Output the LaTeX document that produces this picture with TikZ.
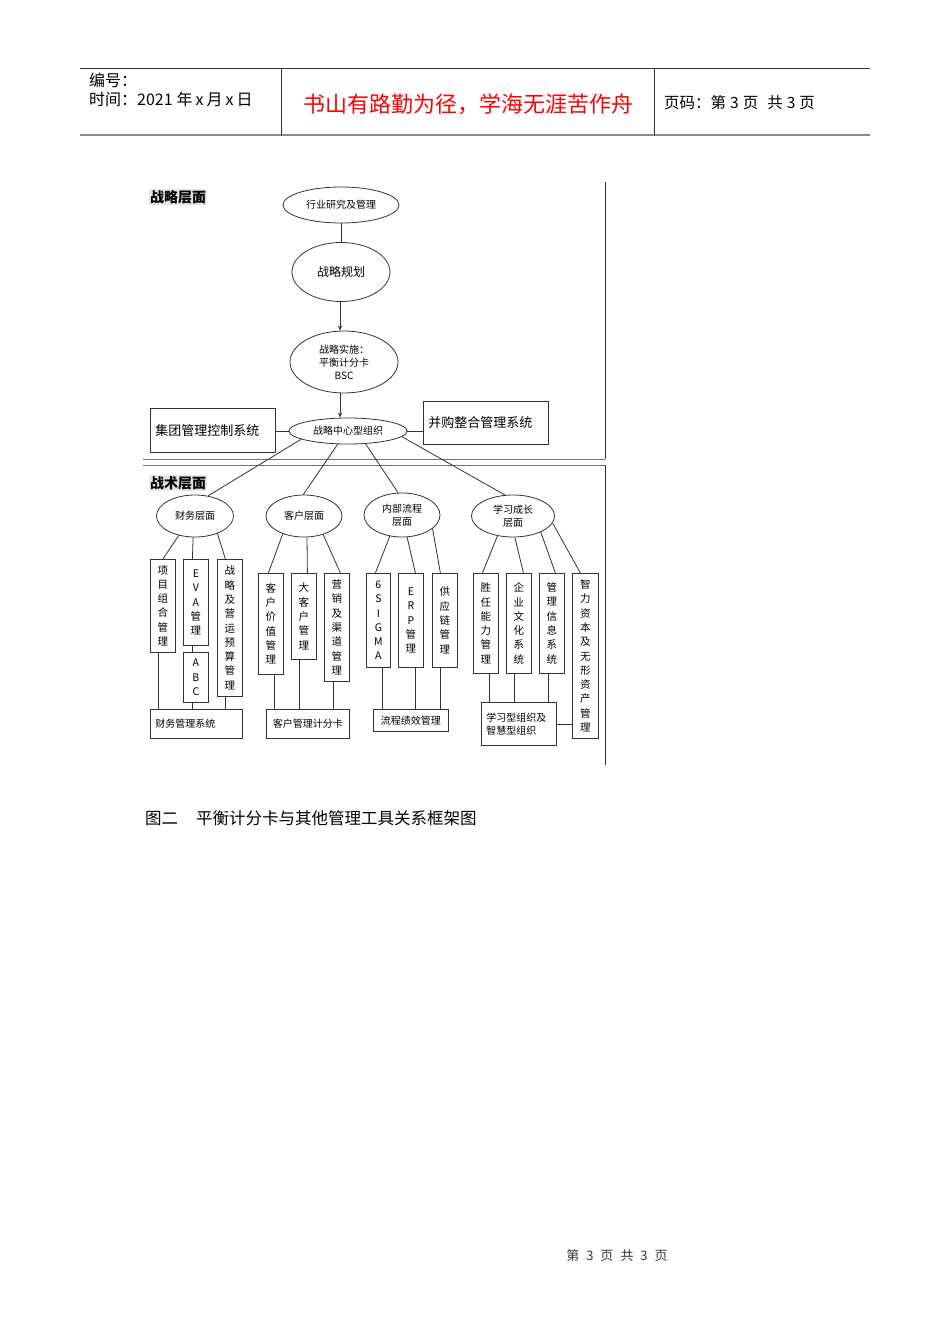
\documentclass[tikz,border=0pt]{standalone}
\usepackage{fontspec}
\setmainfont{Liberation Sans}
\newfontfamily\cjk{Noto Sans CJK SC}
\usetikzlibrary{shapes.geometric,arrows.meta}
\definecolor{ln}{HTML}{333333}
\definecolor{hdr}{HTML}{8A8A8A}
\begin{document}
\begin{tikzpicture}[x=1pt,y=-1pt,
  ell/.style={ellipse,draw=ln,line width=0.8pt,inner sep=0pt,align=center,font=\fontsize{10}{13}\cjk},
  vbox/.style={draw=ln,line width=0.8pt,inner sep=0pt,anchor=north west,minimum width=25pt,align=center,font=\fontsize{10.5}{14.3}\cjk},
  hbox/.style={draw=ln,line width=0.8pt,anchor=north west,font=\fontsize{10}{13}\cjk},
  bigbox/.style={draw=ln,line width=0.8pt,anchor=north west,inner sep=5pt,align=left,font=\fontsize{13}{15}\cjk},
  conn/.style={draw=ln,line width=0.8pt},
  arr/.style={conn,-{Stealth[length=5pt,width=4pt]}},
  frame/.style={draw=ln,line width=1pt},
  lvl/.style={anchor=west,fill=black!10,inner sep=1pt,font=\fontsize{14}{16}\cjk\bfseries}
]
\useasboundingbox[fill=white] (0,0) rectangle (950,1344);

% ---------- header ----------
\coordinate (hTL) at (80,68);
\coordinate (hTR) at (870,68);
\coordinate (hBL) at (80,135);
\coordinate (hBR) at (870,135);
\draw[ln,line width=0.8pt] (hTL) -- (hTR);
\draw[hdr,line width=2pt] (hBL) -- (hBR);
\coordinate (d1t) at (281,68); \coordinate (d1b) at (281,135);
\coordinate (d2t) at (654,68); \coordinate (d2b) at (654,135);
\draw[ln,line width=0.8pt] (d1t) -- (d1b);
\draw[ln,line width=0.8pt] (d2t) -- (d2b);
\node[anchor=west,inner sep=0pt,font=\fontsize{16}{18}\cjk] (hno) at (89,80) {编号：};
\node[anchor=west,inner sep=0pt,font=\fontsize{16}{18}\cjk] (htime) at (89,99) {时间：2021\hspace{4pt}年\hspace{3pt}x\hspace{3pt}月\hspace{3pt}x\hspace{3pt}日};
\node[inner sep=0pt,text=red,font=\fontsize{22}{25}\cjk] (motto) at (468,104) {书山有路勤为径，学海无涯苦作舟};
\node[anchor=west,inner sep=0pt,font=\fontsize{15.5}{17}\cjk] (hpage) at (664,103) {页码：第\hspace{4pt}3\hspace{4pt}页\hspace{9pt}共\hspace{4pt}3\hspace{4pt}页};

% ---------- frame ----------
\coordinate (fr1) at (605,182);
\coordinate (fr2) at (605,459);
\coordinate (fr3) at (143,459);
\coordinate (fr4) at (143,465);
\coordinate (fr5) at (605,465);
\coordinate (fr6) at (605,765);
\draw[frame] (fr1) -- (fr2);
\draw[frame,draw=black!55] (fr2) -- (fr3);
\draw[frame,draw=black!55] (fr4) -- (fr5);
\draw[frame] (fr5) -- (fr6);
\node[lvl] (lv1) at (149,197) {战略层面};
\node[lvl] (lv2) at (149,483) {战术层面};

% ---------- strategic level ----------
\node[ell,minimum width=116pt,minimum height=36pt] (r1) at (341,205) {行业研究及管理};
\node[ell,minimum width=98pt,minimum height=59pt,font=\fontsize{12}{14}\cjk] (r2) at (341,272) {战略规划};
\node[ell,minimum width=108pt,minimum height=62pt] (r3) at (344,362) {战略实施：\\平衡计分卡\\BSC};
\node[ell,minimum width=118pt,minimum height=26pt] (e4) at (348,431) {战略中心型组织};
\node[bigbox,text width=115pt,minimum height=44pt] (grp) at (150,408) {集团管理控制系统};
\node[bigbox,text width=115pt,minimum height=43pt] (ma) at (423,401) {并购整合管理系统\\[6pt]};
\draw[conn] (r1.south) -- (r2.north);
\draw[arr] ([xshift=-1pt]r2.south) -- ([xshift=-4pt]r3.north);
\draw[arr] ([xshift=-4pt]r3.south) -- ([xshift=-8pt]e4.north);
\draw[conn] (grp.east |- e4.west) -- (e4.west);
\draw[conn] (e4.east) -- (e4.east -| ma.west);

% ---------- tactical level ellipses ----------
\node[ell,minimum width=77pt,minimum height=42pt] (cw) at (195,516) {财务层面};
\node[ell,minimum width=76pt,minimum height=42pt] (cu) at (304,516) {客户层面};
\node[ell,minimum width=76pt,minimum height=44pt] (ip) at (402,515) {内部流程\\层面};
\node[ell,minimum width=83pt,minimum height=42pt] (lg) at (513,516) {学习成长\\层面};
\draw[conn] (e4.190) -- (cw.57);
\draw[conn] (e4.232) -- (cu.92);
\draw[conn] (e4.-36) -- (ip.100);
\draw[conn] (e4.-6) -- (lg.111);

% ---------- finance ----------
\node[vbox,minimum height=93pt] (p1) at (150,559) {项\\目\\组\\合\\管\\理};
\node[vbox,minimum height=86pt] (p2) at (183,559) {E\\V\\A\\管\\理};
\node[vbox,minimum height=50pt] (p3) at (183,652) {A\\B\\C};
\node[vbox,minimum height=137pt] (p4) at (217,559) {战\\略\\及\\营\\运\\预\\算\\管\\理};
\node[hbox,text width=82pt,inner sep=5pt,minimum height=29pt,align=left] (fin) at (150,709) {财务管理系统};
\draw[conn] (cw.230) -- (p1.north);
\draw[conn] (cw.265) -- ([xshift=-3.5pt]p2.north);
\draw[conn] (cw.-38) -- ([xshift=-4.5pt]p4.north);
\draw[conn] ([xshift=-3.5pt]p2.south) -- ([xshift=-3.5pt]p3.north);
\draw[conn] ([xshift=-4.5pt]p1.south) -- ([xshift=-4.5pt]p1.south |- fin.north);
\draw[conn] ([xshift=-3.5pt]p3.south) -- ([xshift=-3.5pt]p3.south |- fin.north);
\draw[conn] ([xshift=-4.5pt]p4.south) -- ([xshift=-4.5pt]p4.south |- fin.north);

% ---------- customer ----------
\node[vbox,minimum height=101pt] (c1) at (258,573) {客\\户\\价\\值\\管\\理};
\node[vbox,minimum height=86pt] (c2) at (291,573) {大\\客\\户\\管\\理};
\node[vbox,minimum height=108pt] (c3) at (324,573) {营\\销\\及\\渠\\道\\管\\理};
\node[hbox,inner sep=0pt,minimum width=83pt,minimum height=29pt] (cs) at (266,709) {客户管理计分卡};
\draw[conn] (cu.220) -- ([xshift=-2.5pt]c1.north);
\draw[conn] (cu.-82) -- ([xshift=3.5pt]c2.north);
\draw[conn] (cu.-44) -- ([xshift=3.5pt]c3.north);
\draw[conn] ([xshift=3.5pt]c1.south) -- ([xshift=3.5pt]c1.south |- cs.north);
\draw[conn] ([xshift=-4.5pt]c2.south) -- ([xshift=-4.5pt]c2.south |- cs.north);
\draw[conn] ([xshift=-3.5pt]c3.south) -- ([xshift=-3.5pt]c3.south |- cs.north);

% ---------- internal process ----------
\node[vbox,minimum width=24pt,minimum height=94pt] (i1) at (366,573) {6\\S\\I\\G\\M\\A};
\node[vbox,minimum height=94pt] (i2) at (398,573) {E\\R\\P\\管\\理};
\node[vbox,minimum height=94pt] (i3) at (432,573) {供\\应\\链\\管\\理};
\node[hbox,inner sep=0pt,minimum width=75pt,minimum height=22pt] (ps) at (373,709) {流程绩效管理};
\draw[conn] (ip.240) -- ([xshift=-3pt]i1.north);
\draw[conn] (ip.-77) -- ([xshift=4.5pt]i2.north);
\draw[conn] (ip.-24) -- ([xshift=-4.5pt]i3.north);
\draw[conn] ([xshift=4pt]i1.south) -- ([xshift=4pt]i1.south |- ps.north);
\draw[conn] ([xshift=4.5pt]i2.south) -- ([xshift=4.5pt]i2.south |- ps.north);
\draw[conn] ([xshift=-4.5pt]i3.south) -- ([xshift=-4.5pt]i3.south |- ps.north);

% ---------- learning & growth ----------
\node[vbox,minimum height=100pt] (l1) at (473,573) {胜\\任\\能\\力\\管\\理};
\node[vbox,minimum height=100pt] (l2) at (506,573) {企\\业\\文\\化\\系\\统};
\node[vbox,minimum height=100pt] (l3) at (539,573) {管\\理\\信\\息\\系\\统};
\node[vbox,minimum width=26pt,minimum height=165pt] (l4) at (572,573) {智\\力\\资\\本\\及\\无\\形\\资\\产\\管\\理};
\node[hbox,text width=65pt,inner sep=5pt,minimum height=43pt,align=left] (lo) at (481,702) {学习型组织及\\智慧型组织};
\draw[conn] (lg.232) -- ([xshift=-3.5pt]l1.north);
\draw[conn] (lg.-85) -- ([xshift=4.5pt]l2.north);
\draw[conn] (lg.-30) -- ([xshift=3.5pt]l3.north);
\draw[conn] (lg.-10) -- ([xshift=-5pt]l4.north);
\draw[conn] ([xshift=3.5pt]l1.south) -- ([xshift=3.5pt]l1.south |- lo.north);
\draw[conn] ([xshift=-4.5pt]l2.south) -- ([xshift=-4.5pt]l2.south |- lo.north);
\draw[conn] ([xshift=-3.5pt]l3.south) -- ([xshift=-3.5pt]l3.south |- lo.north);
\draw[conn] (lo.east) -- (lo.east -| l4.west);

% ---------- caption & footer ----------
\node[anchor=west,inner sep=0pt,font=\fontsize{16.5}{18}\cjk] (cap) at (145,818) {图二\hspace{18pt}平衡计分卡与其他管理工具关系框架图};
\node[inner sep=0pt,text=black!80,font=\fontsize{13}{15}\cjk] (foot) at (617,1256) {第\hspace{7pt}3\hspace{7pt}页\hspace{7pt}共\hspace{7pt}3\hspace{7pt}页};
\end{tikzpicture}
\end{document}
